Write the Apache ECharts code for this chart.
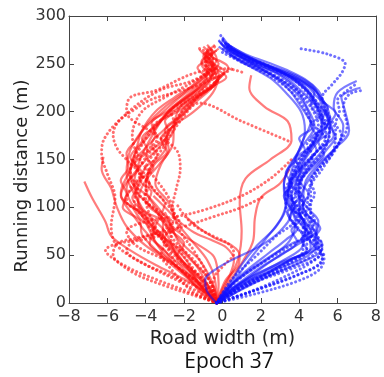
<!DOCTYPE html>
<html><head><meta charset="utf-8">
<script src="https://cdn.jsdelivr.net/npm/echarts@6/dist/echarts.min.js"></script>
<style>html,body{margin:0;padding:0;background:#fff}#c{width:384px;height:377px}</style>
</head><body><div id="c"></div>
<script>
const xTicks = [-8,-6,-4,-2,0,2,4,6,8];
const yTicks = [0,50,100,150,200,250,300];
const xLabel = 'Road width (m)';
const yLabel = 'Running distance (m)';
const caption = 'Epoch 37';

const redSolid = [
 [[-0.3,0],[-1,15],[-1.6,30],[-2.4,50],[-3,75],[-4.2,100],[-4.6,125],[-4.3,150],[-3.8,170],[-3.2,190],[-2.5,205],[-1.5,220],[-0.8,240],[-0.9,255],[-0.7,268]],
 [[-0.3,0],[-0.8,20],[-1.4,40],[-2.2,60],[-2.8,85],[-3.8,110],[-4.8,130],[-4.6,155],[-3.6,180],[-2.8,200],[-1.8,215],[-0.6,235],[-1.1,250],[-0.5,262]],
 [[-0.2,0],[-1.2,20],[-1.9,45],[-3.1,70],[-4.6,100],[-5,120],[-4.2,145],[-3.2,165],[-2.6,185],[-2.2,205],[-1,225],[-0.4,245],[-1,262]],
 [[-0.3,0],[-0.5,20],[-1.2,45],[-2,60],[-2.8,80],[-3.5,100],[-4,120],[-3.8,140],[-3,160],[-2.8,180],[-1.5,200],[-0.5,220],[-0.2,240],[-0.8,258]],
 [[-7.2,127],[-6.8,110],[-6.1,85],[-5.8,70],[-4.8,55],[-3.5,40],[-2,25],[-0.8,10],[-0.3,0]],
 [[-0.3,0],[-1.5,25],[-2.5,45],[-3.6,65],[-4.6,90],[-5.3,115],[-4.8,140],[-4.5,160],[-4.2,180],[-3.5,200],[-2.5,215],[-1.2,232],[-0.5,250],[-0.6,265]],
 [[-0.3,0],[-0.4,25],[-0.8,45],[-1.6,65],[-2.4,85],[-2.8,105],[-3.5,125],[-3.2,145],[-2.6,165],[-2.5,185],[-1.8,205],[-0.8,222],[0,240]],
 [[-0.3,0],[0.2,20],[0.8,45],[1,75],[0.9,105],[1.2,130],[2.5,150],[3.6,170],[3.4,190],[2.2,205],[1.4,225],[1.5,238]],
 [[-0.3,0],[0.3,20],[1.1,45],[1.6,65],[1.7,90],[2,110],[3,125],[3.5,140]],
 [[-6.2,153],[-6.3,140],[-5.8,120],[-5.5,100],[-5,80],[-4,60],[-2.5,40],[-1,18],[-0.3,0]],
 [[-0.3,0],[-1,15],[-2.2,35],[-3.2,55],[-3.9,80],[-4.4,105],[-4.1,125],[-3.3,145],[-2.8,160],[-3,180],[-2,198],[-1.3,215],[-0.3,232],[-0.6,250],[-1.2,265]],
 [[-0.3,0],[-0.6,10],[-1.4,30],[-2.4,50],[-3.3,70],[-4,90],[-4.5,110],[-5,135],[-4.8,160],[-4,185],[-3,205],[-2,220],[-1,238],[-0.3,255],[-0.8,270]],
 [[-0.3,0],[-0.2,20],[-0.3,40],[-0.5,50],[-1.2,60],[-2,70],[-2.6,80],[-3,95]],
 [[-0.3,0],[-0.9,12],[-1.5,28],[-2,42],[-2.6,58],[-3.1,72],[-3.1,84],[-4.1,96],[-4.7,110],[-4.4,122],[-4.9,135],[-4.5,148],[-3.9,160],[-4.2,172],[-3.4,186],[-2.9,198],[-2.2,210],[-1.4,222],[-0.8,234],[-1.3,246],[-0.6,258],[-1.0,268]],
 [[-0.3,0],[-1.1,14],[-1.8,27],[-2.5,40],[-3,55],[-3.6,68],[-3.6,82],[-4.3,95],[-5.1,108],[-4.6,122],[-4.2,136],[-4.6,148],[-4.0,162],[-3.5,176],[-3.7,188],[-2.9,200],[-2.0,214],[-1.0,228],[-0.5,240],[-1.1,252],[-0.3,264]],
 [[-0.3,0],[-0.5,12],[-1.1,26],[-1.9,40],[-2.5,54],[-3.0,68],[-2.7,80],[-3.3,92],[-3.9,104],[-3.7,116],[-4.3,128],[-4.0,142],[-3.4,154],[-3.7,166],[-3.1,180],[-2.4,192],[-2.0,204],[-1.2,218],[-0.4,230],[0.1,242],[-0.7,254],[-0.2,266]],
 [[-0.3,0],[-1.4,18],[-2.2,35],[-3.1,50],[-3.8,62],[-3.6,75],[-4.3,88],[-4.7,100],[-5.3,112],[-5.0,126],[-4.4,140],[-4.8,152],[-4.3,166],[-3.8,180],[-3.2,192],[-2.6,205],[-1.8,218],[-1.1,230],[-0.4,242],[-0.9,256],[-0.4,270]],
 [[-0.3,0],[-0.7,16],[-1.6,32],[-2.4,48],[-2.0,62],[-2.7,76],[-3.2,90],[-3.0,104],[-3.6,118],[-3.9,132],[-3.5,146],[-2.9,158],[-3.2,172],[-2.5,186],[-2.0,198],[-1.4,210],[-0.7,222],[-0.2,234],[0.3,246],[-0.5,256]],
 [[-0.3,0],[-1.1,10],[-1.6,22],[-2.3,34],[-3.0,46],[-3.6,58],[-4.2,72],[-4.3,86],[-5.2,100],[-5.0,114],[-5.3,128],[-4.9,142],[-5.0,156],[-4.5,170],[-4.0,184],[-3.2,198],[-2.4,212],[-1.5,226],[-0.8,238],[-0.2,250],[-0.9,262]],
 [[-0.3,0],[-0.4,14],[-0.9,30],[-1.6,44],[-2.2,56],[-2.9,66],[-3.6,76],[-3.3,90],[-3.9,104],[-4.5,118],[-4.2,130],[-3.6,142],[-4.0,154],[-3.3,166],[-2.8,178],[-3.0,190],[-2.2,202],[-1.4,214],[-0.6,226],[0.2,236],[-0.4,246],[-1.0,258],[-0.6,266]],
 [[-0.3,0],[0,15],[0.4,30],[0.6,45],[0.2,58],[-0.6,66],[-1.5,74],[-2.3,86],[-3,100],[-3.6,112]],
 [[-0.3,0],[-0.1,12],[0.2,25],[0.8,38],[0.9,50],[0.5,60],[-0.4,68],[-1.2,78],[-1.9,90]]
];
const redDotted = [
 [[-0.3,0],[-2,20],[-4,40],[-5.5,60],[-5.8,80],[-5.6,110],[-6,135],[-6.3,155],[-6.2,170],[-5,198],[-3.3,222],[-1.6,232],[-0.4,245]],
 [[-0.3,0],[-1.5,25],[-3,45],[-4.5,60],[-5,75],[-4,85],[-2.5,90],[-1,97],[1,112],[2.5,130],[3.6,150]],
 [[-0.3,0],[-1,25],[-2.5,50],[-3.5,80],[-4,110],[-3.8,140],[-3,165],[-2.2,190],[-1.2,209],[1,190],[3.6,168]],
 [[-0.3,0],[-0.6,20],[-1.5,45],[-2.5,65],[-3.2,90],[-4.4,115],[-4.8,140],[-4.2,165],[-3.5,185],[-2.6,200],[-1.5,215],[-0.4,230],[-0.8,255],[-0.4,268]],
 [[-0.3,0],[-1,18],[-2.2,35],[-2.8,55],[-3.6,80],[-4.6,105],[-4.2,130],[-3.8,150],[-2.7,175],[-2.3,195],[-1.3,215],[-0.2,235],[-0.9,250],[-0.4,262]],
 [[-0.3,0],[-1.8,12],[-3.5,25],[-5,38],[-5.7,50],[-5.5,62],[-4.5,68],[-3.2,75],[-2.5,90],[-2.8,110],[-3.5,130],[-4.3,150],[-4.7,175],[-4.2,200],[-3,215],[-1.8,228],[-0.6,242]],
 [[-0.3,0],[-1.2,15],[-2.8,30],[-4.2,42],[-5,55],[-4.6,65],[-3.5,72],[-2,80],[-0.5,90],[1,100],[2.2,112]],
 [[-0.3,0],[-0.8,30],[-1.5,55],[-2.2,75],[-2.6,100],[-2.4,120],[-2.2,140],[-2.4,160],[-3.8,180],[-5,200],[-4.8,215],[-3.5,222],[-1.5,240],[0.2,245],[1.2,240]],
 [[-0.3,0],[-1.4,10],[-2.1,22],[-2.7,36],[-3.2,50],[-3.0,64],[-3.8,78],[-4,92],[-5.0,106],[-4.8,120],[-4.3,134],[-4.6,146],[-3.9,160],[-3.4,172],[-3.6,184],[-2.8,196],[-2.0,208],[-1.0,220],[-0.3,232],[-0.9,244],[-0.5,256],[-1.2,266]],
 [[-0.3,0],[-0.9,20],[-1.6,38],[-2.2,54],[-2.7,68],[-2.6,82],[-3.3,96],[-4.1,110],[-3.8,124],[-4.4,138],[-4.0,152],[-3.5,164],[-3.0,176],[-2.5,188],[-2.7,200],[-1.8,212],[-0.9,224],[-0.2,236],[-0.6,250]],
 [[-0.3,0],[-1.5,8],[-3.0,18],[-4.5,30],[-5.6,45],[-6.1,55],[-5.5,62],[-4.2,66],[-3.0,72],[-2.2,82],[-2.6,96],[-3.2,110],[-3.8,124],[-4.4,138],[-5.0,150],[-5.5,162],[-5.7,176],[-5.4,190],[-4.6,202],[-3.8,212],[-2.5,220],[-1.2,228],[-0.1,238],[0.6,246]],
 [[-0.3,0],[-0.5,14],[-0.4,28],[0.1,40],[0.6,52],[0.3,62],[-0.5,70],[-1.4,80],[-2.0,92],[-2.4,104]]
];
const blueSolid = [
 [[-0.3,0],[0.5,15],[1.8,30],[3.2,45],[4.2,60],[4.3,80],[3.8,100],[3.5,120],[3.8,140],[4.5,160],[5.2,180],[5,200],[4.5,220],[3.5,235],[2,248],[0.5,262],[-0.1,272]],
 [[-0.3,0],[0.2,15],[1.2,30],[2.5,48],[3.5,65],[3.8,85],[3.4,105],[3.2,125],[3.6,145],[4.2,165],[4.8,185],[4.4,205],[3.8,225],[2.8,240],[1.4,252],[0.2,268]],
 [[-0.3,0],[1,20],[2.8,35],[4.5,50],[5,65],[4.5,85],[4,105],[4,125],[4.6,145],[5.4,165],[5.6,185],[5.2,205],[4.8,225],[3.8,238],[2.2,250],[0.6,265],[0,278]],
 [[-0.3,0],[0.4,20],[1,40],[1.8,60],[2.8,80],[3.3,100],[3.2,120],[3.4,140],[4,160],[4.3,180],[4.1,200],[3.3,220],[2.5,235],[1,252],[-0.2,268]],
 [[-0.3,0],[1.5,25],[3.5,45],[4.8,60],[4.9,80],[4.2,100],[4.3,125],[5,145],[6,165],[6.3,185],[5.8,205],[6,220],[7,232]],
 [[-0.3,0],[1,22],[3,42],[4.6,58],[4.4,78],[4,98],[4.2,118],[4.9,140],[5.8,160],[6.6,180],[6.4,200],[6.2,215],[7.2,225]],
 [[-0.3,0],[0.8,15],[2.2,30],[3.6,45],[4.8,55],[5.2,62],[4.6,72],[3.8,90],[3.6,110],[3.9,130],[4.3,150],[5,170],[5.5,190],[4.9,210],[4.2,228],[3,242],[1.5,255],[0.1,270]],
 [[-0.3,0],[0.5,20],[1.4,45],[2.3,68],[3.1,90],[3.4,110],[3.5,130],[3.8,150],[4.2,170],[4.6,190],[4.2,210],[3.4,228],[2,245],[0.6,258],[-0.2,275]],
 [[-0.3,0],[-0.8,12],[-0.9,24],[-0.3,36],[0.8,48],[2,60],[3,75],[3.6,95],[3.4,115],[3.8,135],[4.4,155],[5,175],[5.6,192],[5.3,210],[4.5,228],[3.2,240],[1.8,252],[0.4,266]],
 [[-0.3,0],[0.8,25],[2.2,45],[3.6,62],[4.8,72],[5,85],[4.4,100],[3.8,120],[4.2,140],[5,160],[5.8,175],[5.5,195],[5.1,215],[4.4,230],[3.2,242],[1.6,255],[0.3,270]],
 [[-0.3,0],[0.6,10],[1.6,22],[2.6,34],[3.6,46],[4.4,56],[4.1,66],[4.6,76],[4.2,88],[3.7,100],[4.0,112],[3.6,124],[3.9,136],[4.4,148],[4.9,160],[4.6,172],[5.3,184],[5.0,196],[4.6,208],[4.8,220],[4.0,232],[3.0,242],[2.0,250],[1.0,258],[0.2,268]],
 [[-0.3,0],[0.3,12],[1.2,26],[2.2,40],[3.2,52],[3.9,64],[3.6,76],[4.1,88],[3.5,100],[3.2,112],[3.6,124],[3.3,136],[3.8,148],[4.3,160],[4.0,172],[4.7,184],[4.4,196],[4.0,208],[3.6,220],[3.0,232],[2.1,244],[1.2,254],[0.3,264],[-0.2,274]],
 [[-0.3,0],[1.0,14],[2.4,28],[3.8,40],[4.9,50],[5.2,58],[4.8,68],[5.1,78],[4.5,90],[4.2,102],[4.5,114],[4.1,126],[4.4,138],[5.0,150],[5.5,162],[5.9,174],[5.6,186],[5.9,198],[5.3,210],[5.0,222],[4.3,234],[3.3,244],[2.3,252],[1.2,260],[0.1,272]],
 [[-0.3,0],[0.1,10],[0.7,24],[1.5,38],[2.4,52],[3.3,66],[3.9,78],[3.5,90],[3.8,102],[3.4,114],[3.7,126],[4.1,138],[3.8,150],[4.5,162],[4.9,174],[4.6,186],[5.2,198],[4.7,210],[4.1,222],[3.4,234],[2.5,244],[1.5,252],[0.5,262],[0.0,276]],
 [[-0.3,0],[0.8,18],[2.0,36],[3.0,50],[4.0,62],[4.7,72],[4.3,84],[4.0,96],[4.3,108],[3.9,120],[4.2,132],[4.8,144],[5.3,156],[5.0,168],[5.6,180],[5.2,192],[5.5,204],[4.9,216],[4.4,228],[3.6,238],[2.6,246],[1.4,256],[0.4,266]]
];
const blueDotted = [
 [[-0.3,0],[1.5,20],[3.5,35],[5,48],[5.2,60],[4.8,75],[4.6,95],[4.6,120],[5.2,140],[5.8,160],[5.9,180],[5.4,200],[5.2,215],[5.7,228],[6.2,240],[6.4,250],[5.5,260],[4,266]],
 [[-0.3,0],[2,15],[4,30],[5.2,45],[5,60],[4.4,75],[4,95],[3.8,115],[4.2,135],[4.8,155],[5.4,175],[5.2,195],[4.6,215],[3.6,235],[2.2,248],[0.6,262],[-0.1,280]],
 [[-0.3,0],[0.6,12],[2,25],[3.4,40],[4.4,55],[4.4,70],[3.9,90],[3.6,110],[3.6,130],[4,150],[4.8,170],[5.2,190],[4.8,210],[4,230],[2.8,244],[1.2,256],[0.2,272]],
 [[-0.3,0],[1.2,20],[3.2,40],[4.2,55],[4.2,75],[4.4,100],[4.6,125],[5.2,145],[6,165],[6.5,185],[6.3,205],[6.6,218],[7.2,222]],
 [[-0.3,0],[1.5,12],[3.6,27],[5,40],[5.3,52]],
 [[-0.3,0],[0.3,10],[1.4,22],[2.8,32],[4,42],[4.9,55],[4.4,68],[3.6,85],[3.3,105],[3.5,125],[4,145],[4.6,165],[5,185],[4.6,205],[3.8,222],[2.6,238],[1.2,250],[0,262]],
 [[-0.3,0],[0.5,25],[1.8,50],[2.8,70],[3.8,85],[4.2,100],[4,120],[4.5,140],[5.3,160],[5.6,180],[5,200],[4.2,218],[3,235],[1.6,248],[0.3,260]],
 [[-0.3,0],[0.9,8],[2.2,18],[3.5,30],[4.6,42],[5.1,52],[4.7,62],[4.3,74],[4.6,86],[4.0,98],[3.7,110],[4.1,122],[3.8,134],[4.3,146],[4.9,158],[5.4,170],[5.1,182],[5.6,194],[5.1,206],[4.6,218],[4.0,230],[3.2,240],[2.4,248],[1.4,256],[0.6,264],[-0.1,276]],
 [[-0.3,0],[0.4,16],[1.3,32],[2.4,46],[3.4,58],[4.2,70],[3.8,82],[3.4,94],[3.7,106],[3.3,118],[3.6,130],[4.2,142],[4.7,154],[4.4,166],[5.0,178],[4.6,190],[4.3,202],[3.9,214],[3.3,226],[2.4,238],[1.6,246],[0.8,254],[0.0,266]],
 [[-0.3,0],[1.8,10],[3.8,22],[5.0,34],[5.3,46],[5.0,58],[4.6,72],[4.8,86],[4.5,100],[4.8,114],[4.6,128],[5.0,140],[5.6,152],[6.0,164],[6.2,176],[5.9,188],[6.1,200],[6.0,212],[6.5,222],[6.9,228]]
];

const RED = '#ff1010', BLUE = '#1010ff';
const series = [];
function add(paths, color, dotted) {
  paths.forEach(p => series.push({
    type: 'line', data: p, smooth: 0.35, showSymbol: false, silent: true,
    xAxisIndex: 0, yAxisIndex: 0,
    lineStyle: dotted
      ? {color: color, width: 3, opacity: 0.6, type: [0.1, 4.2], cap: 'round'}
      : {color: color, width: 2.2, opacity: 0.55}
  }));
}
add(redSolid, RED, false); add(redDotted, RED, true);
add(blueSolid, BLUE, false); add(blueDotted, BLUE, true);

const FONT = 'DejaVu Sans';
const fmt = v => String(v).replace('-', '\u2212');
const axLine = {show: true, onZero: false, lineStyle: {color: '#444', width: 1}};
const tick = {show: true, inside: true, length: 5, lineStyle: {color: '#444'}};

const chart = echarts.init(document.getElementById('c'), null, {renderer: 'canvas'});
chart.setOption({
  animation: false,
  backgroundColor: '#fff',
  grid: {left: 69, right: 6, top: 16, bottom: 74},
  xAxis: [
    {type: 'value', min: xTicks[0], max: xTicks[xTicks.length-1], interval: 2, position: 'bottom',
     axisLine: axLine, axisTick: tick, splitLine: {show: false},
     axisLabel: {fontFamily: FONT, fontSize: 16, color: '#333', margin: 6, formatter: fmt},
     name: xLabel, nameLocation: 'middle', nameGap: 25,
     nameTextStyle: {fontFamily: FONT, fontSize: 19, color: '#222'}},
    {type: 'value', min: xTicks[0], max: xTicks[xTicks.length-1], interval: 2, position: 'top',
     axisLine: axLine, axisTick: tick, splitLine: {show: false}, axisLabel: {show: false}}
  ],
  yAxis: [
    {type: 'value', min: yTicks[0], max: yTicks[yTicks.length-1], interval: 50, position: 'left',
     axisLine: axLine, axisTick: tick, splitLine: {show: false},
     axisLabel: {fontFamily: FONT, fontSize: 16, color: '#333', margin: 3}},
    {type: 'value', min: yTicks[0], max: yTicks[yTicks.length-1], interval: 50, position: 'right',
     axisLine: axLine, axisTick: tick, splitLine: {show: false}, axisLabel: {show: false}}
  ],
  graphic: [
    {type: 'text', x: 22, y: 176, rotation: Math.PI/2,
     style: {text: yLabel, fontFamily: FONT, fontSize: 18, fill: '#222', textAlign: 'center', textVerticalAlign: 'middle'}},
    {type: 'text', x: 229, y: 362,
     style: {text: caption, fontFamily: 'Open Sans', fontSize: 21, fill: '#111', textAlign: 'center', textVerticalAlign: 'middle'}}
  ],
  series: series
});
</script></body></html>
